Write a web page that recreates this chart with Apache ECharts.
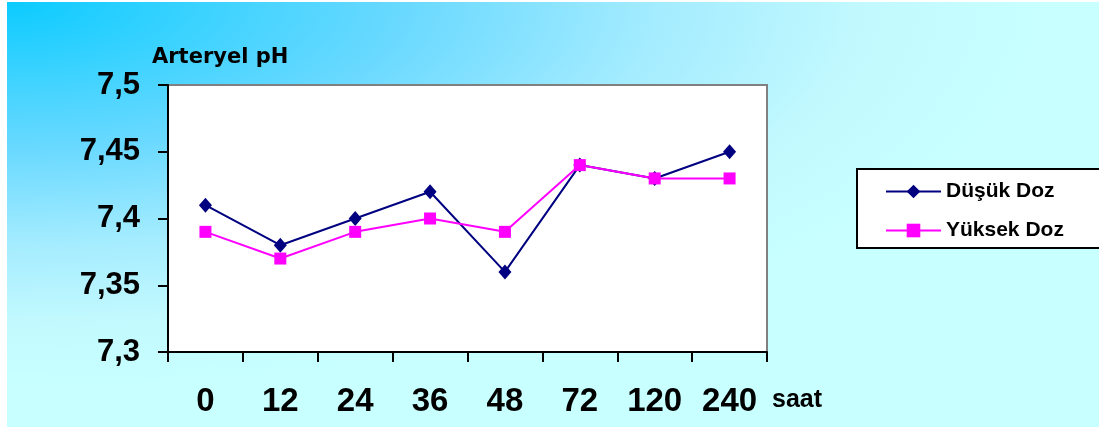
<!DOCTYPE html>
<html>
<head>
<meta charset="utf-8">
<title>Arteryel pH</title>
<script src="https://cdn.jsdelivr.net/npm/echarts@6/dist/echarts.min.js"></script>
<style>
  html, body { margin: 0; padding: 0; background: #ffffff; overflow: hidden; }
  #bg {
    position: absolute; left: 7px; top: 2px; right: 0; bottom: 0;
    background: radial-gradient(ellipse 1050px 390px at 0 0,
      #0ccbff 0%, #3fd3ff 20%, #6ad9ff 38%, #a4ecff 62%, #c2f9fe 82%, #c8ffff 100%);
  }
  #chart { position: absolute; left: 0; top: 0; width: 1099px; height: 427px; }
</style>
</head>
<body>
<div id="bg"></div>
<div id="chart"></div>
<script>
// Hours after dosing
const categories = ['0', '12', '24', '36', '48', '72', '120', '240'];
// Arterial pH, low dose group
const dusukDoz = [7.41, 7.38, 7.40, 7.42, 7.36, 7.44, 7.43, 7.45];
// Arterial pH, high dose group
const yuksekDoz = [7.39, 7.37, 7.39, 7.40, 7.39, 7.44, 7.43, 7.43];
// Value axis range and step
const yMin = 7.3, yMax = 7.5, yStep = 0.05;

const chart = echarts.init(document.getElementById('chart'), null, { renderer: 'canvas' });

chart.setOption({
  backgroundColor: 'transparent',
  animation: false,
  title: {
    text: 'Arteryel pH',
    left: 152,
    top: 47,
    padding: 0,
    textStyle: { fontFamily: 'DejaVu Sans', fontWeight: 'bold', fontSize: 21, color: '#000' }
  },
  legend: {
    left: 857,
    top: 169,
    orient: 'vertical',
    backgroundColor: '#ffffff',
    borderColor: '#000000',
    borderWidth: 2,
    borderRadius: 0,
    padding: [12, 80, 7, 28],
    itemWidth: 55,
    itemHeight: 17,
    itemGap: 18,
    textStyle: { fontFamily: 'Liberation Sans', fontWeight: 'bold', fontSize: 21, color: '#000' },
    data: ['Düşük Doz', 'Yüksek Doz']
  },
  grid: {
    left: 168, top: 85, right: 332, bottom: 75,
    show: true,
    backgroundColor: '#ffffff',
    borderColor: '#808080',
    borderWidth: 2
  },
  xAxis: {
    type: 'category',
    data: categories,
    boundaryGap: true,
    name: 'saat',
    nameLocation: 'end',
    nameGap: 5,
    nameTextStyle: {
      fontFamily: 'Liberation Sans', fontWeight: 'bold', fontSize: 25, color: '#000',
      align: 'left', verticalAlign: 'top', padding: [36, 0, 0, 0]
    },
    axisLine: { lineStyle: { color: '#000', width: 2 } },
    axisTick: { show: true, inside: false, length: 10, lineStyle: { color: '#000', width: 2 } },
    axisLabel: {
      margin: 33,
      fontFamily: 'Liberation Sans',
      fontWeight: 'bold',
      fontSize: 33,
      color: '#000'
    },
    splitLine: { show: false }
  },
  yAxis: {
    type: 'value',
    min: yMin,
    max: yMax,
    interval: yStep,
    axisLine: { show: true, lineStyle: { color: '#000', width: 2 } },
    axisTick: { show: true, inside: false, length: 10, lineStyle: { color: '#000', width: 2 } },
    axisLabel: {
      margin: 28,
      fontFamily: 'Liberation Sans',
      fontWeight: 'bold',
      fontSize: 31,
      color: '#000',
      formatter: v => String(+v.toFixed(2)).replace('.', ',')
    },
    splitLine: { show: false }
  },
  series: [
    {
      name: 'Düşük Doz',
      type: 'line',
      data: dusukDoz,
      symbol: 'diamond',
      symbolSize: [13, 15],
      showAllSymbol: true,
      lineStyle: { color: '#000080', width: 2 },
      itemStyle: { color: '#000080' },
      z: 2
    },
    {
      name: 'Yüksek Doz',
      type: 'line',
      data: yuksekDoz,
      symbol: 'rect',
      symbolSize: 12,
      showAllSymbol: true,
      lineStyle: { color: '#ff00ff', width: 2 },
      itemStyle: { color: '#ff00ff' },
      z: 3
    }
  ]
});
</script>
</body>
</html>
